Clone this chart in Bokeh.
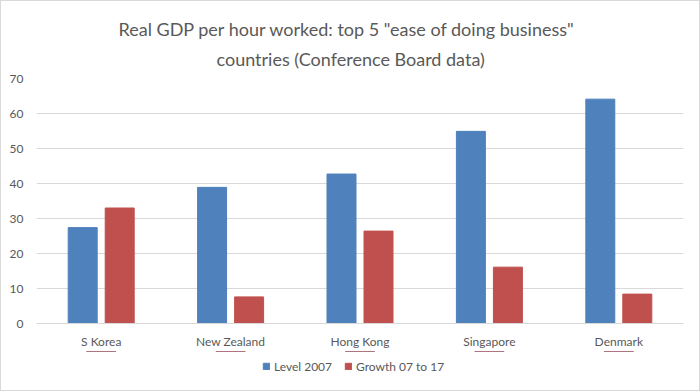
from bokeh.plotting import figure
from bokeh.models import FactorRange, Legend, LegendItem, Title, ColumnDataSource
from bokeh.layouts import column
from bokeh.transform import dodge
from bokeh.embed import file_html
from bokeh.resources import INLINE

countries = ["S Korea", "New Zealand", "Hong Kong", "Singapore", "Denmark"]
level_2007 = [27.4, 38.9, 42.7, 54.9, 64.1]
growth_07_17 = [33.0, 7.6, 26.4, 16.1, 8.4]
y_ticks = [0, 10, 20, 30, 40, 50, 60, 70]
series_names = ["Level 2007", "Growth 07 to 17"]
series_colors = ["#4F81BD", "#C0504D"]
title_lines = ['Real GDP per hour worked: top 5 "ease of doing business"',
               'countries  (Conference Board data)']

FONT = "Lato"
GRAY = "#595959"

src = ColumnDataSource(dict(country=countries, level=level_2007, growth=growth_07_17))

p = figure(width=698, height=350,
           x_range=FactorRange(factors=countries, range_padding=0),
           y_range=(0, 70), output_backend="svg", toolbar_location=None,
           min_border_left=35, min_border_right=16, min_border_top=77, min_border_bottom=28)
p.title = None
p.outline_line_color = None

p.vbar(x=dodge("country", -0.143, range=p.x_range), top="level", width=0.224,
       source=src, fill_color=series_colors[0], line_color=series_colors[0])
p.vbar(x=dodge("country", 0.143, range=p.x_range), top="growth", width=0.224,
       source=src, fill_color=series_colors[1], line_color=series_colors[1])

t2 = Title(text=title_lines[1], align="left", text_font=FONT, text_font_size="18px",
           text_font_style="normal", text_color=GRAY, standoff=18, offset=180)
t1 = Title(text=title_lines[0], align="left", text_font=FONT, text_font_size="18px",
           text_font_style="normal", text_color=GRAY, standoff=-6, offset=82)
p.add_layout(t2, "above")
p.add_layout(t1, "above")

p.xgrid.grid_line_color = None
p.ygrid.grid_line_color = "#d9d9d9"
p.yaxis.ticker = y_ticks
p.yaxis.axis_line_color = None
p.yaxis.major_tick_line_color = None
p.yaxis.minor_tick_line_color = None
p.yaxis.major_tick_in = 0
p.yaxis.major_tick_out = 0
p.yaxis.major_label_standoff = 13
p.xaxis.axis_line_color = "#d9d9d9"
p.xaxis.major_tick_line_color = None
p.xaxis.major_tick_in = 0
p.xaxis.major_tick_out = 0
p.xaxis.major_label_standoff = 10
for ax in (p.xaxis, p.yaxis):
    ax.major_label_text_font = FONT
    ax.major_label_text_font_size = "12px"
    ax.major_label_text_color = GRAY

# legend strip below the chart (its bars lie outside its visible y range)
pl = figure(width=698, height=39, x_range=FactorRange(factors=countries, range_padding=0),
            y_range=(-2, -1), x_axis_type=None, y_axis_type=None, output_backend="svg",
            toolbar_location=None, min_border=0)
pl.title = None
pl.outline_line_color = None
pl.xgrid.visible = False
pl.ygrid.visible = False
items = []
for name, col, field in zip(series_names, series_colors, ["level", "growth"]):
    r = pl.vbar(x="country", top=field, width=0.224, source=src,
                fill_color=col, line_color=col)
    items.append(LegendItem(label=name, renderers=[r]))
legend = Legend(items=items, orientation="horizontal", location=(226, 14),
                label_text_font=FONT, label_text_font_size="12px", label_text_color=GRAY,
                glyph_width=8, glyph_height=8, label_standoff=4, spacing=12,
                label_height=20, border_line_color=None, background_fill_alpha=0,
                padding=0, margin=0)
pl.add_layout(legend, "center")

layout = column(p, pl, spacing=0)
layout.styles = {"border": "1px solid #d9d9d9"}

open("out.html", "w").write(file_html(layout, INLINE))
